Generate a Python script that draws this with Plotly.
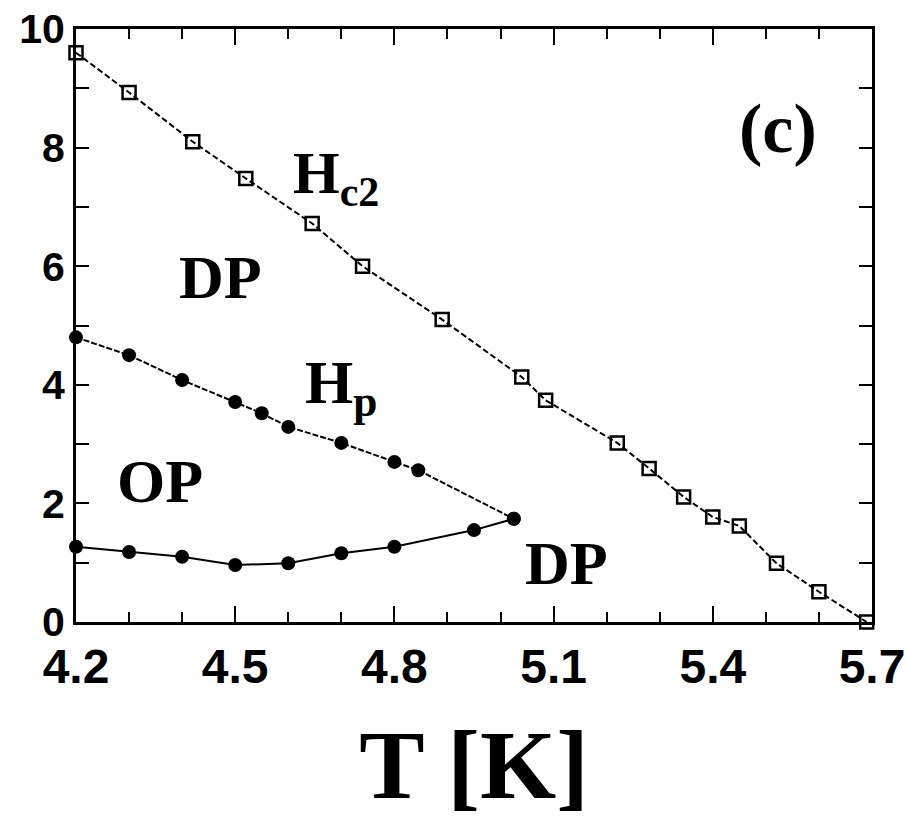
import plotly.graph_objects as go

# Upper critical field H_c2(T): open squares
hc2_T = [4.20, 4.30, 4.42, 4.52, 4.645, 4.74, 4.89, 5.04, 5.085, 5.22, 5.28,
         5.345, 5.40, 5.45, 5.52, 5.60, 5.69]
hc2_H = [9.60, 8.93, 8.10, 7.48, 6.72, 6.00, 5.10, 4.13, 3.74, 3.02, 2.59,
         2.11, 1.77, 1.62, 0.99, 0.51, 0.00]

# Peak-effect field H_p(T), upper branch: filled circles
hp_T = [4.20, 4.30, 4.40, 4.50, 4.55, 4.60, 4.70, 4.80, 4.845, 5.025]
hp_H = [4.80, 4.50, 4.08, 3.71, 3.52, 3.29, 3.02, 2.70, 2.56, 1.74]

# Lower boundary of the ordered phase
low_T = [4.20, 4.30, 4.40, 4.50, 4.60, 4.70, 4.80, 4.95, 5.025]
low_H = [1.27, 1.18, 1.10, 0.96, 0.99, 1.16, 1.27, 1.55, 1.74]

x_ticks = [4.2, 4.5, 4.8, 5.1, 5.4, 5.7]
x_tick_text = ["4.2", "4.5", "4.8", "5.1", "5.4", "5.7"]
y_ticks = [0, 2, 4, 6, 8, 10]

fig = go.Figure()

fig.add_trace(go.Scatter(
    x=hc2_T, y=hc2_H, mode="lines+markers",
    line=dict(color="black", width=2, dash="6px,3px"),
    marker=dict(symbol="square-open", size=13, color="black",
                line=dict(color="black", width=2.5)),
    showlegend=False, cliponaxis=False,
))
fig.add_trace(go.Scatter(
    x=hp_T, y=hp_H, mode="lines+markers",
    line=dict(color="black", width=2, dash="6px,2px"),
    marker=dict(symbol="circle", size=14, color="black"),
    showlegend=False, cliponaxis=False,
))
fig.add_trace(go.Scatter(
    x=low_T, y=low_H, mode="lines+markers",
    line=dict(color="black", width=2),
    marker=dict(symbol="circle", size=14, color="black"),
    showlegend=False, cliponaxis=False,
))

serif = "Liberation Serif, Times New Roman, serif"
labels = [
    (4.473, 5.81, "<b>DP</b>", 62, "center"),
    (4.358, 2.38, "<b>OP</b>", 62, "center"),
    (5.125, 1.00, "<b>DP</b>", 62, "center"),
    (5.522, 8.33, "<b>(c)</b>", 70, "center"),
    (4.605, 7.50, "<b>H<sub>c2</sub></b>", 60, "left"),
    (4.628, 3.97, "<b>H<sub>p</sub></b>", 62, "left"),
]
for x, y, txt, size, anchor in labels:
    fig.add_annotation(x=x, y=y, text=txt, showarrow=False,
                       xanchor=anchor, yanchor="middle",
                       font=dict(family=serif, size=size, color="black"))

fig.update_xaxes(
    range=[4.2, 5.7 + 1e-6], tickvals=x_ticks, ticktext=x_tick_text,
    ticks="inside", ticklen=16, tickwidth=2, tickcolor="black",
    minor=dict(dtick=0.1, tick0=4.2, ticks="inside", ticklen=10,
               tickwidth=2, tickcolor="black"),
    showline=True, linewidth=3, linecolor="black", mirror="ticks",
    showgrid=False, zeroline=False, ticklabeloverflow="allow",
    automargin=False,
    tickfont=dict(family="Liberation Sans, Arial, sans-serif", size=48,
                  color="black", weight="bold"),
    title=dict(text="<b>T [K]</b>", standoff=44,
               font=dict(family=serif, size=98, color="black")),
)
fig.update_yaxes(
    range=[0, 10], tickvals=y_ticks,
    ticks="inside", ticklen=13, tickwidth=2, tickcolor="black",
    minor=dict(dtick=1, tick0=0, ticks="inside", ticklen=13,
               tickwidth=2, tickcolor="black"),
    showline=True, linewidth=3, linecolor="black", mirror="ticks",
    showgrid=False, zeroline=False, automargin=False,
    tickfont=dict(family="Liberation Sans, Arial, sans-serif", size=41,
                  color="black", weight="bold"),
)

fig.update_layout(
    width=905, height=819,
    margin=dict(l=76, r=33, t=29, b=197),
    paper_bgcolor="white", plot_bgcolor="white",
)

fig.write_html("out.html")
